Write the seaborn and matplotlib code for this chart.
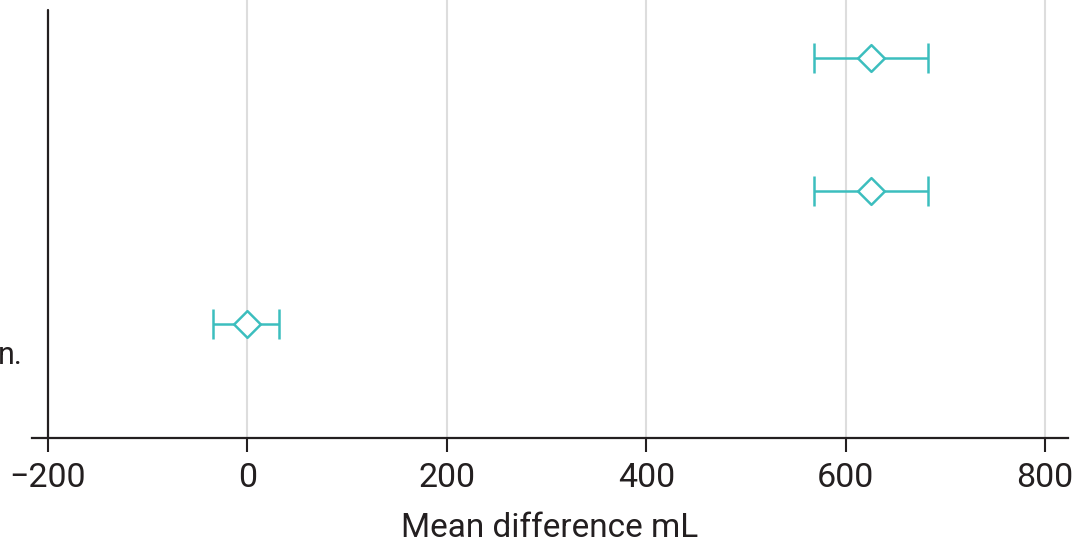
import numpy as np
import pandas as pd
import matplotlib
matplotlib.use("Agg")
import matplotlib.pyplot as plt
import seaborn as sns

# Forest-plot data: mean difference with 95% CI bounds (mL)
comparisons = ["Comparison 1", "Comparison 2", "Comparison 3"]
mean_diff = [625, 625, 0]
ci_lower = [568, 568, -34]
ci_upper = [683, 683, 32]
x_ticks = [-200, 0, 200, 400, 600, 800]
x_label = "Mean difference mL"
row_note = "n."

TEAL = "#3CBEBE"
DARK = "#231F20"
GRID = "#DDDDDD"

sns.set_style("white")
plt.rcParams["font.family"] = ["Roboto", "DejaVu Sans"]

df = pd.DataFrame({
    "comparison": comparisons,
    "mean": mean_diff,
    "lower": ci_lower,
    "upper": ci_upper,
})
df["row"] = np.arange(len(df))

fig = plt.figure(figsize=(10.76, 5.48), dpi=100)
ax = fig.add_axes([32 / 1076, 110 / 548, 1036 / 1076, 438 / 548])

# vertical grid lines behind everything
for t in x_ticks[1:]:
    ax.axvline(t, color=GRID, lw=1.5, zorder=0)

# confidence intervals
ax.errorbar(df["mean"], df["row"],
            xerr=[df["mean"] - df["lower"], df["upper"] - df["mean"]],
            fmt="none", ecolor=TEAL, elinewidth=1.8, capsize=11, capthick=1.8,
            zorder=2)

# hollow diamond point estimates
sns.scatterplot(data=df, x="mean", y="row", ax=ax, marker="D", s=185,
                facecolors="white", edgecolor=TEAL, linewidth=1.8, zorder=3,
                legend=False)

ax.set_xlim(-216, 823)
ax.set_ylim(2.857, -0.436)

# y axis drawn at x = -200
for s in ["top", "right", "left"]:
    ax.spines[s].set_visible(False)
ax.spines["bottom"].set_color(DARK)
ax.spines["bottom"].set_linewidth(1.6)
ax.axvline(-200, ymin=0, ymax=(438 - 10) / 438, color=DARK, lw=1.6, zorder=4)

ax.set_xticks(x_ticks)
ax.set_xticklabels([f"{t:d}".replace("-", "\u2212") for t in x_ticks])
ax.tick_params(axis="x", direction="out", length=10, width=1.5, color=DARK,
               labelsize=24.5, labelcolor=DARK, pad=7, bottom=True)
ax.set_yticks([])
ax.set_xlabel(x_label, fontsize=24, color=DARK, labelpad=13)
ax.set_ylabel("")

fig.text(-2 / 1076, 1 - 355 / 548, row_note, fontsize=22, color=DARK,
         ha="left", va="center")

fig.savefig("out.png", dpi=100)
